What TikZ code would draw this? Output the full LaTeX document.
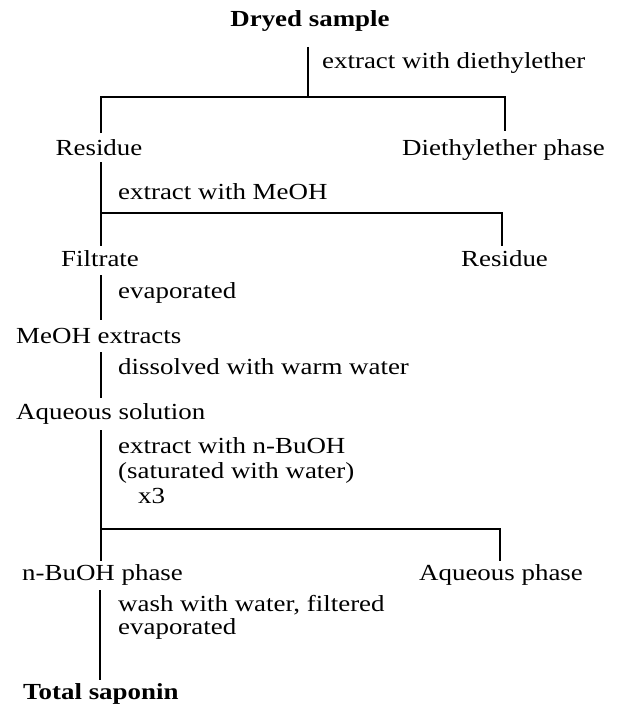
\documentclass[tikz,border=0pt]{standalone}
\usepackage{fontspec}
\setmainfont{Liberation Serif}[FakeStretch=1.17]
\begin{document}
\begin{tikzpicture}[x=1pt,y=-1pt,
  txt/.style={inner sep=0pt, anchor=base west, font=\fontsize{23}{25}\selectfont},
  ctxt/.style={txt, anchor=base},
  btxt/.style={ctxt, font=\fontsize{23}{25}\selectfont\bfseries},
  wire/.style={line width=1.1pt, line cap=butt}]
\useasboundingbox (0,0) rectangle (617,709);
% nodes
\node[btxt] (dryed) at (310,27) {Dryed sample};
\node[txt] (l1) at (322,69) {extract with diethylether};
\node[ctxt] (res1) at (99,155) {Residue};
\node[txt] (dee) at (402,155) {Diethylether phase};
\node[txt] (l2) at (118,199) {extract with MeOH};
\node[ctxt] (filt) at (100,266) {Filtrate};
\node[txt] (res2) at (461,266) {Residue};
\node[txt] (l3) at (118,298) {evaporated};
\node[txt] (meoh) at (16,343) {MeOH extracts};
\node[txt] (l4) at (118,374) {dissolved with warm water};
\node[txt] (aqs) at (16,419) {Aqueous solution};
\node[txt, align=left] (l5) at (118,503) {extract with n-BuOH\\(saturated with water)\\\hspace*{20pt}x3};
\node[txt] (buoh) at (22,580) {n-BuOH phase};
\node[txt] (aqp) at (419,580) {Aqueous phase};
\node[txt, align=left, font=\fontsize{23}{23}\selectfont] (l6) at (118,634) {wash with water, filtered\\evaporated};
\node[btxt, anchor=base west] (total) at (23,699) {Total saponin};
% connector points
\coordinate (a0) at (308,47);
\coordinate (a1) at (308,97);
\coordinate (a2) at (101,97);
\coordinate (a3) at (505,97);
\coordinate (a4) at (101,133);
\coordinate (a5) at (505,131);
\coordinate (b0) at (101,162);
\coordinate (b1) at (101,213);
\coordinate (b2) at (502,213);
\coordinate (b3) at (101,246);
\coordinate (b4) at (502,246);
\coordinate (c0) at (101,275);
\coordinate (c1) at (101,320);
\coordinate (d0) at (101,352);
\coordinate (d1) at (101,398);
\coordinate (e0) at (101,430);
\coordinate (e1) at (101,529);
\coordinate (e2) at (500,529);
\coordinate (e3) at (101,561);
\coordinate (e4) at (500,561);
\coordinate (f0) at (100,590);
\coordinate (f1) at (100,680);
% connectors
\draw[wire] (a0) -- (a1);
\draw[wire] (a4) -- (a2) -- (a3) -- (a5);
\draw[wire] (b0) -- (b3);
\draw[wire] (b1) -- (b2) -- (b4);
\draw[wire] (c0) -- (c1);
\draw[wire] (d0) -- (d1);
\draw[wire] (e0) -- (e3);
\draw[wire] (e1) -- (e2) -- (e4);
\draw[wire] (f0) -- (f1);
\end{tikzpicture}
\end{document}
